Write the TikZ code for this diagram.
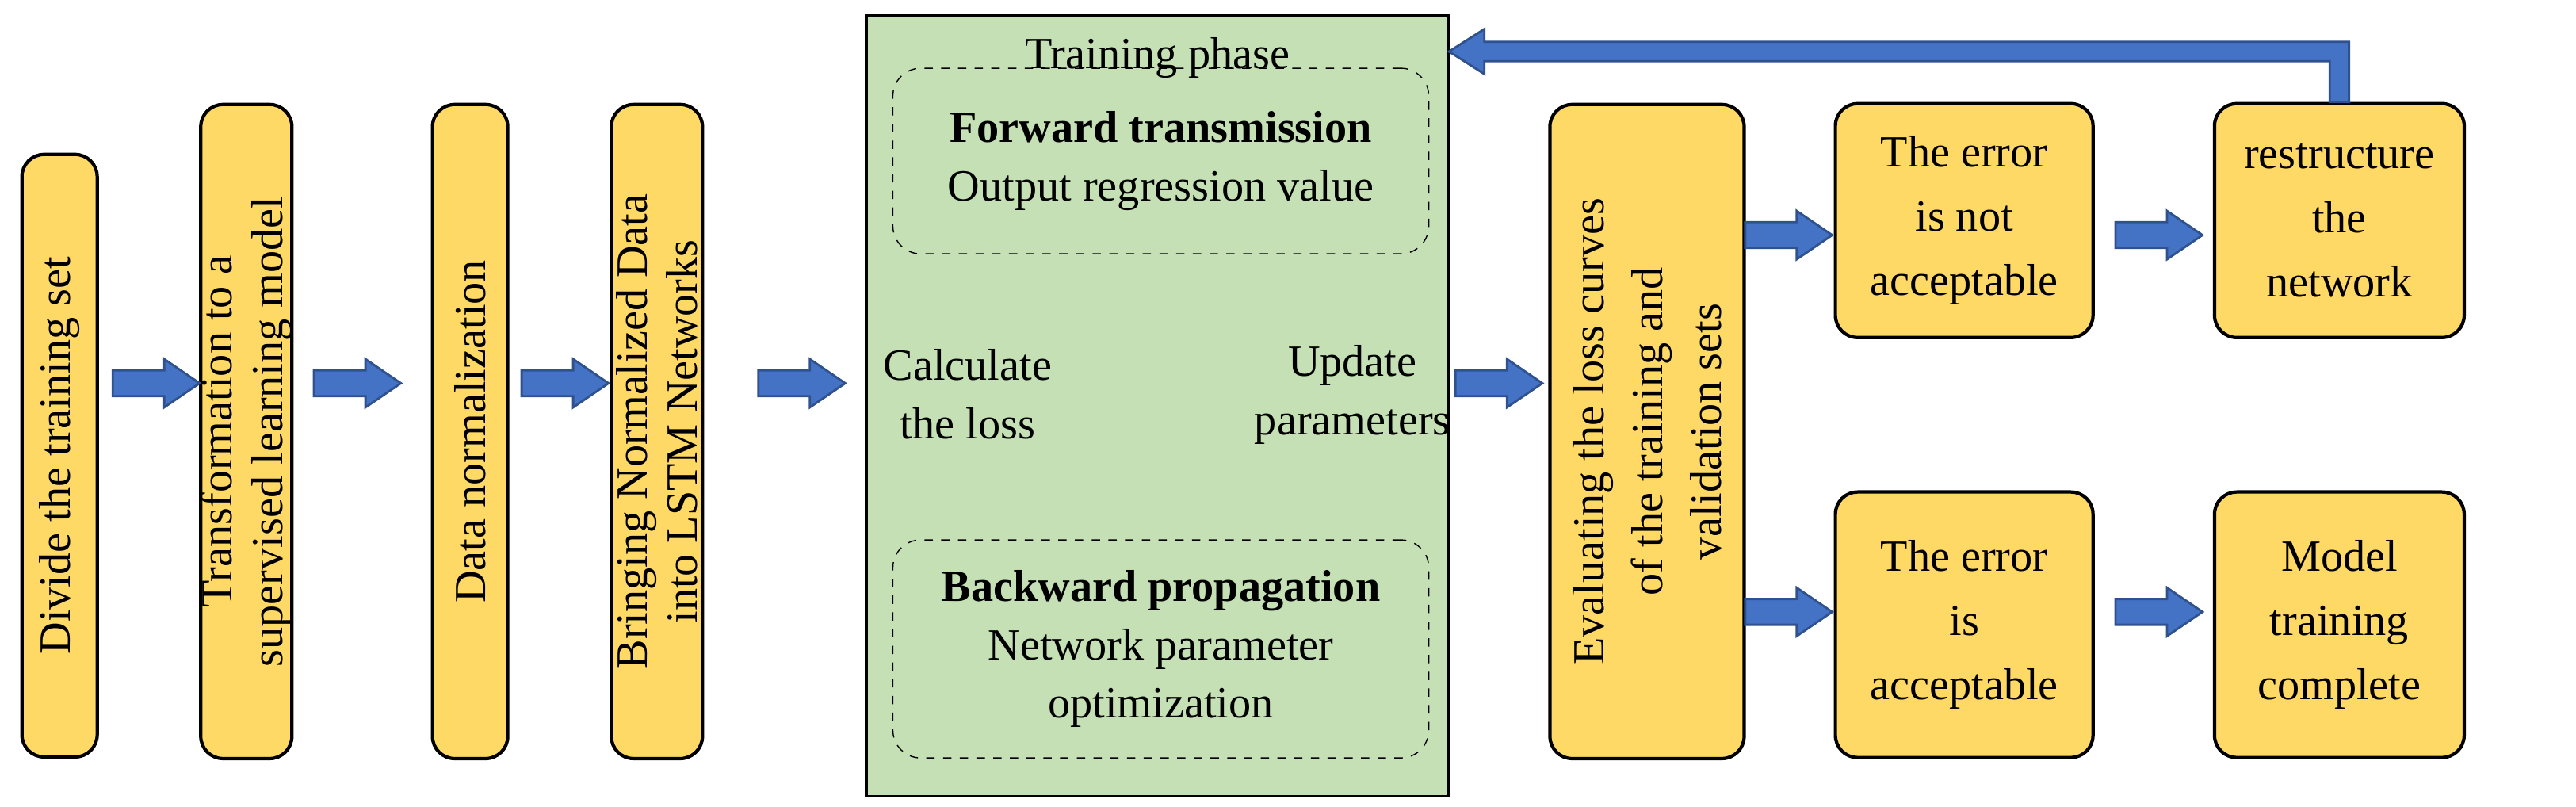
\documentclass[tikz,border=0pt]{standalone}
\usepackage{fontspec}
\setmainfont{Liberation Serif}
\definecolor{yel}{HTML}{FFD966}
\definecolor{grn}{HTML}{C5E0B4}
\definecolor{ablue}{HTML}{4472C4}
\definecolor{dblue}{HTML}{2F528F}
\newcommand\myblockarrow[2]{\filldraw[arr,shift={(#1,#2)}] (-27,-8) -- (5,-8) -- (5,-15) -- (27,0) -- (5,15) -- (5,8) -- (-27,8) -- cycle;}
\begin{document}
\begin{tikzpicture}[x=0.0203125cm,y=-0.0203125cm,
 box/.style={draw=black,line width=1.2pt,fill=yel,rounded corners=8pt,inner sep=0pt},
 vt/.style={rotate=90,font=\fontsize{16}{18}\selectfont,align=center},
 t/.style={font=\fontsize{16}{21}\selectfont,align=center},
 tr/.style={font=\fontsize{16}{23}\selectfont,align=center},
 arr/.style={fill=ablue,draw=dblue,line width=0.8pt}]
\useasboundingbox (0,0) rectangle (1600,500.7);
% boxes
\node[box,minimum width=0.95cm,minimum height=7.6cm] (b1) at (37,283) {};
\node[vt] at (b1) {Divide the training set};
\node[box,minimum width=1.15cm,minimum height=8.25cm] (b2) at (153,268) {};
\node[vt] at (b2) {Transformation to a\\supervised learning model};
\node[box,minimum width=0.95cm,minimum height=8.25cm] (b3) at (292,268) {};
\node[vt] at (b3) {Data normalization};
\node[box,minimum width=1.15cm,minimum height=8.25cm] (b4) at (408,268) {};
\node[vt] at (b4) {Bringing Normalized Data\\into LSTM Networks};
\node[draw=black,line width=1pt,fill=grn,minimum width=7.35cm,minimum height=9.85cm,inner sep=0pt] (g) at (719,252) {};
\node[t] (tp) at (719,36) {Training phase};
\node[draw=black,dashed,rounded corners=10pt,minimum width=6.76cm,minimum height=2.34cm,inner sep=0pt] (fw) at (721,100) {};
\node[t] at (fw) {\textbf{Forward transmission}\\Output regression value};
\node[draw=black,dashed,rounded corners=10pt,minimum width=6.76cm,minimum height=2.75cm,inner sep=0pt] (bw) at (721,403) {};
\node[t] at (bw) {\textbf{Backward propagation}\\Network parameter\\optimization};
\node[t] (cl) at (601,245) {Calculate\\the loss};
\node[t] (up) at (840,245) {Update\\parameters};
\node[box,minimum width=2.45cm,minimum height=8.25cm] (b5) at (1023,268) {};
\node[vt,font=\fontsize{16}{21}\selectfont] at (b5) {Evaluating the loss curves\\of the training and\\validation sets};
\node[box,minimum width=3.25cm,minimum height=2.95cm,tr] (e1) at (1220,137) {The error\\is not\\acceptable};
\node[box,minimum width=3.15cm,minimum height=2.95cm,tr] (r) at (1453,137) {restructure\\the\\network};
\node[box,minimum width=3.25cm,minimum height=3.35cm,tr] (e2) at (1220,388) {The error\\is\\acceptable};
\node[box,minimum width=3.15cm,minimum height=3.35cm,tr] (m) at (1453,388) {Model\\training\\complete};
% block arrows
\myblockarrow{97}{238}
\myblockarrow{222}{238}
\myblockarrow{351}{238}
\myblockarrow{498}{238}
\myblockarrow{931}{238}
\myblockarrow{1111}{146}
\myblockarrow{1341}{146}
\myblockarrow{1111}{380}
\myblockarrow{1341}{380}
% feedback
\filldraw[arr]
 ([shift={(-6,0)}]r.north) -- ([shift={(-6,0)}]r.north |- 0,38) -- (922,38) -- (922,46) -- (900,32) -- (922,18) -- (922,26)
 -- ([shift={(6,0)}]r.north |- 0,26) -- ([shift={(6,0)}]r.north) -- cycle;
\end{tikzpicture}
\end{document}
